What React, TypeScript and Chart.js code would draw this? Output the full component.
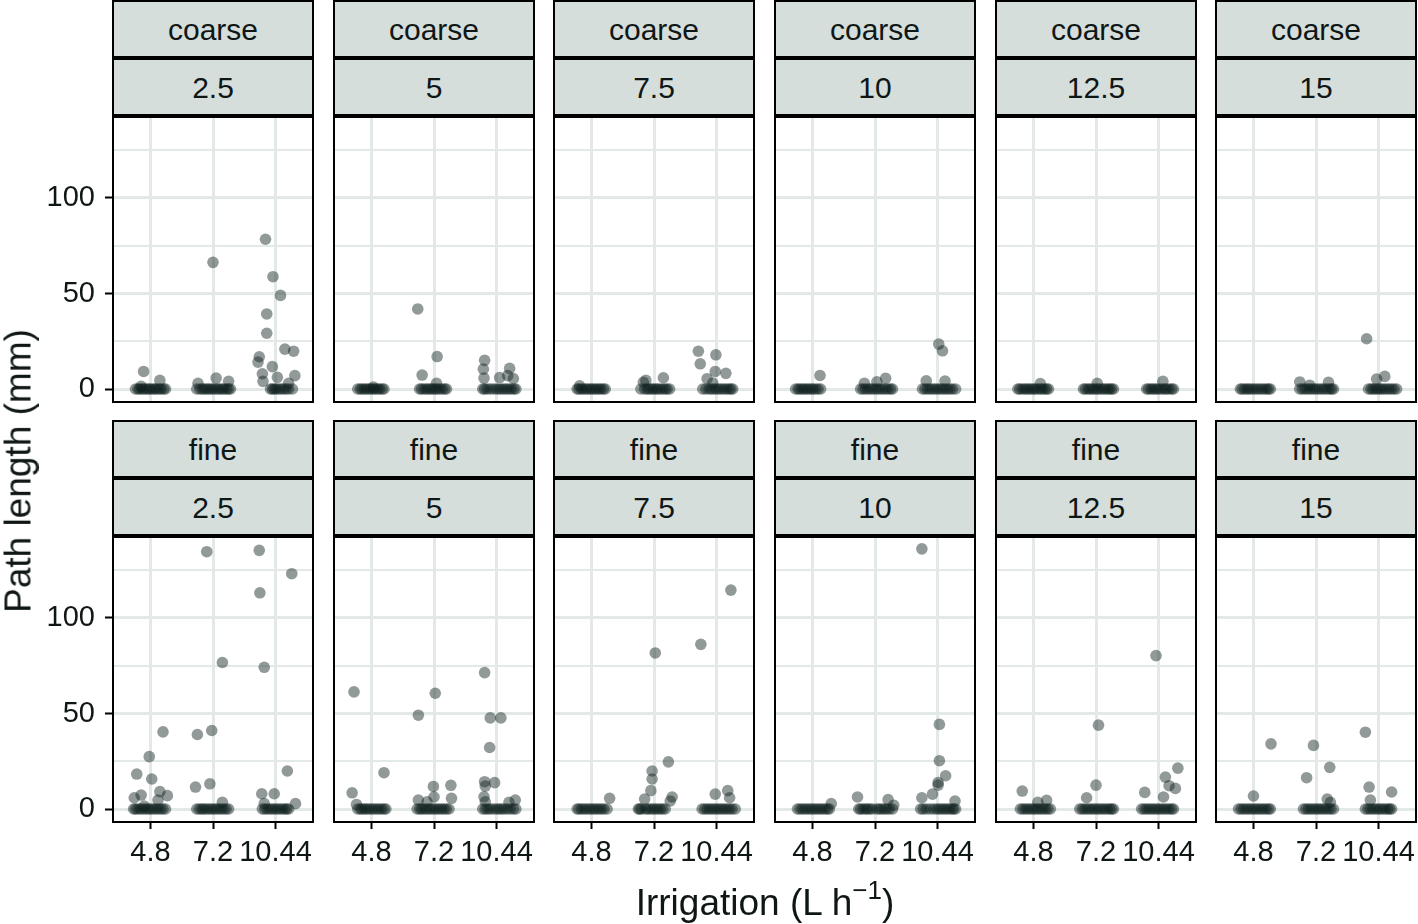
import React, { useEffect, useRef } from 'react';
import { Chart, registerables } from 'chart.js';

Chart.register(...registerables);

// ---------- categories / labels ----------
const irrigation = ['4.8', '7.2', '10.44'];
const textures = ['coarse', 'fine'];
const flowRates = ['2.5', '5', '7.5', '10', '12.5', '15'];
const yTicks = [0, 25, 50, 75, 100, 125];
const yMajor = [0, 50, 100];

// ---------- data: [x position in category units (1..3 + jitter), path length mm] ----------
const coarse2_5Raised = [[0.89, 9.2], [1.15, 4.5], [0.85, 1.4], [2.0, 66.3], [1.76, 3], [2.05, 5.7], [2.25, 4], [2.84, 78.4], [2.96, 58.8], [3.08, 49], [2.86, 39.3], [2.86, 29.2], [3.15, 20.9], [3.29, 19.8], [2.74, 16.9], [2.72, 14.1], [2.95, 11.7], [2.79, 8], [3.03, 6.1], [3.31, 7], [2.8, 4], [3.21, 3]];
const coarse2_5Zero = [0.76, 0.8, 0.83, 0.87, 0.9, 0.94, 0.97, 1.0, 1.04, 1.07, 1.1, 1.14, 1.17, 1.21, 1.24, 1.74, 1.79, 1.83, 1.86, 1.9, 1.93, 1.97, 2.0, 2.04, 2.08, 2.11, 2.15, 2.18, 2.22, 2.25, 2.28, 2.92, 2.95, 2.98, 3.01, 3.05, 3.09, 3.13, 3.17, 3.21, 3.27];

const coarse5Raised = [[1.03, 1], [1.74, 41.9], [2.05, 17], [1.81, 7.3], [2.04, 3], [2.81, 15], [2.79, 10.4], [2.8, 5.7], [3.21, 10.8], [3.05, 6], [3.18, 7], [3.27, 5.5]];
const coarse5Zero = [0.78, 0.82, 0.85, 0.89, 0.92, 0.96, 0.99, 1.03, 1.06, 1.1, 1.13, 1.17, 1.2, 1.77, 1.8, 1.84, 1.88, 1.91, 1.95, 1.98, 2.02, 2.05, 2.09, 2.13, 2.17, 2.2, 2.78, 2.81, 2.85, 2.9, 2.95, 3.0, 3.04, 3.08, 3.12, 3.16, 3.2, 3.24, 3.28, 3.31];

const coarse7_5Raised = [[0.81, 1.7], [2.15, 5.9], [1.87, 4.5], [1.83, 3.5], [2.71, 19.8], [2.99, 17.9], [2.74, 13.2], [2.98, 9.2], [3.15, 8.2], [2.85, 5.4], [2.94, 3.1]];
const coarse7_5Zero = [0.77, 0.8, 0.84, 0.87, 0.91, 0.94, 0.98, 1.01, 1.05, 1.08, 1.12, 1.15, 1.19, 1.22, 1.79, 1.85, 1.89, 1.92, 1.96, 1.99, 2.03, 2.06, 2.1, 2.14, 2.18, 2.21, 2.25, 2.78, 2.83, 2.88, 2.92, 2.96, 3.0, 3.04, 3.08, 3.12, 3.16, 3.2, 3.23, 3.26];

const coarse10Raised = [[1.12, 7.1], [2.17, 5.6], [2.03, 3.8], [1.83, 3], [3.02, 23.5], [3.08, 20], [2.82, 4.3], [3.12, 4.2]];
const coarse10Zero = [0.73, 0.77, 0.8, 0.84, 0.87, 0.91, 0.94, 0.98, 1.01, 1.05, 1.09, 1.13, 1.77, 1.81, 1.85, 1.89, 1.93, 1.97, 2.01, 2.05, 2.09, 2.13, 2.17, 2.21, 2.25, 2.28, 2.76, 2.8, 2.84, 2.88, 2.92, 2.96, 3.0, 3.04, 3.08, 3.12, 3.16, 3.2, 3.24, 3.29];

const coarse12_5Raised = [[1.11, 2.8], [2.02, 3], [3.07, 4]];
const coarse12_5Zero = [0.75, 0.78, 0.82, 0.86, 0.89, 0.93, 0.96, 1.0, 1.03, 1.07, 1.11, 1.14, 1.18, 1.21, 1.24, 1.8, 1.83, 1.87, 1.9, 1.94, 1.97, 2.01, 2.04, 2.08, 2.12, 2.15, 2.19, 2.22, 2.25, 2.28, 2.81, 2.84, 2.88, 2.91, 2.95, 2.98, 3.02, 3.06, 3.1, 3.13, 3.17, 3.21, 3.24];

const coarse15Raised = [[1.74, 3.7], [2.2, 3.5], [1.9, 2], [2.81, 26.3], [3.1, 6.6], [2.97, 5.2]];
const coarse15Zero = [0.79, 0.82, 0.86, 0.9, 0.93, 0.97, 1.01, 1.05, 1.09, 1.13, 1.17, 1.21, 1.24, 1.27, 1.74, 1.78, 1.82, 1.86, 1.9, 1.94, 1.98, 2.02, 2.06, 2.1, 2.14, 2.18, 2.22, 2.25, 2.28, 2.84, 2.88, 2.91, 2.95, 2.98, 3.02, 3.05, 3.09, 3.13, 3.17, 3.21, 3.25, 3.29];

const fine2_5Raised = [[1.2, 40.4], [0.98, 27.4], [0.78, 18.3], [1.02, 15.7], [1.15, 9.1], [0.85, 7.3], [0.74, 5.9], [1.27, 7], [1.12, 4.7], [0.9, 1.5], [1.9, 134.7], [2.15, 76.7], [1.75, 39], [1.98, 41.1], [1.95, 13.2], [1.72, 11.5], [2.15, 3.5], [2.74, 135.4], [2.75, 113.2], [3.26, 123.2], [2.82, 74.2], [3.19, 19.9], [2.78, 8], [2.98, 8], [3.32, 2.8], [2.82, 2.8]];
const fine2_5Zero = [0.73, 0.76, 0.8, 0.84, 0.88, 0.92, 0.96, 1.0, 1.04, 1.08, 1.12, 1.16, 1.2, 1.24, 1.74, 1.78, 1.82, 1.85, 1.89, 1.93, 1.97, 2.01, 2.05, 2.09, 2.13, 2.17, 2.21, 2.25, 2.79, 2.83, 2.87, 2.91, 2.95, 2.99, 3.03, 3.07, 3.11, 3.15, 3.18, 3.21];

const fine5Raised = [[0.72, 61.3], [1.2, 19], [0.69, 8.5], [0.76, 2.4], [2.02, 60.6], [1.75, 49.1], [1.99, 11.8], [2.27, 12.4], [2.0, 6.3], [2.28, 5.6], [1.75, 4.7], [1.89, 3.8], [2.81, 71.4], [2.9, 47.7], [3.07, 47.7], [2.89, 32.2], [2.81, 14.3], [2.97, 13.8], [2.82, 12], [2.8, 6.4], [2.82, 3.8], [3.3, 4.7], [3.2, 3.5]];
const fine5Zero = [0.78, 0.82, 0.85, 0.89, 0.92, 0.96, 1.0, 1.04, 1.08, 1.12, 1.16, 1.2, 1.23, 1.73, 1.77, 1.8, 1.84, 1.88, 1.92, 1.96, 2.0, 2.04, 2.08, 2.12, 2.16, 2.2, 2.24, 2.78, 2.82, 2.86, 2.9, 2.95, 3.0, 3.04, 3.08, 3.12, 3.17, 3.22, 3.27, 3.31];

const fine7_5Raised = [[1.29, 5.6], [2.02, 81.7], [2.23, 24.7], [1.97, 19.9], [1.97, 15.7], [1.95, 9.6], [1.85, 5.2], [2.29, 6.3], [2.26, 4.2], [3.23, 114.6], [2.75, 86.2], [2.98, 7.8], [3.18, 9.6], [3.21, 5.9]];
const fine7_5Zero = [0.77, 0.8, 0.84, 0.88, 0.92, 0.96, 1.0, 1.04, 1.08, 1.12, 1.16, 1.2, 1.25, 1.75, 1.77, 1.8, 1.86, 1.9, 1.94, 1.98, 2.02, 2.06, 2.1, 2.14, 2.18, 2.77, 2.81, 2.85, 2.89, 2.93, 2.97, 3.01, 3.05, 3.09, 3.13, 3.17, 3.21, 3.25, 3.3];

const fine10Raised = [[1.3, 2.8], [1.72, 6.3], [2.21, 4.9], [2.3, 2], [2.75, 136.2], [3.03, 44.3], [3.03, 25.3], [3.13, 17.4], [3.01, 13.9], [3.01, 12.5], [2.92, 7.8], [2.75, 5.9], [3.28, 4.2]];
const fine10Zero = [0.76, 0.8, 0.84, 0.88, 0.92, 0.96, 1.0, 1.04, 1.08, 1.12, 1.16, 1.2, 1.24, 1.27, 1.74, 1.77, 1.81, 1.85, 1.88, 1.92, 1.96, 2.03, 2.07, 2.11, 2.15, 2.19, 2.23, 2.28, 2.73, 2.77, 2.82, 2.88, 2.94, 2.99, 3.03, 3.07, 3.11, 3.15, 3.19, 3.23, 3.26, 3.29];

const fine12_5Raised = [[0.82, 9.4], [1.21, 4.5], [1.07, 3.5], [2.04, 43.9], [2.0, 12.5], [1.85, 5.9], [2.96, 80.3], [3.31, 21.4], [3.11, 16.7], [3.17, 12.2], [3.27, 10.8], [2.78, 8.7], [3.08, 6.3]];
const fine12_5Zero = [0.79, 0.83, 0.87, 0.91, 0.95, 0.99, 1.03, 1.07, 1.11, 1.15, 1.19, 1.23, 1.27, 1.74, 1.78, 1.82, 1.86, 1.9, 1.94, 1.98, 2.02, 2.06, 2.1, 2.14, 2.18, 2.22, 2.25, 2.28, 2.73, 2.77, 2.81, 2.85, 2.89, 2.93, 2.97, 3.01, 3.05, 3.09, 3.13, 3.17, 3.21, 3.24];

const fine15Raised = [[1.28, 34.1], [1.0, 6.8], [1.96, 33.3], [2.22, 21.8], [1.85, 16.4], [2.18, 5.2], [2.23, 3.5], [2.79, 40.2], [2.85, 11.5], [3.21, 8.9], [2.87, 4.7]];
const fine15Zero = [0.76, 0.8, 0.84, 0.88, 0.92, 0.96, 1.0, 1.04, 1.08, 1.12, 1.16, 1.2, 1.24, 1.27, 1.8, 1.84, 1.88, 1.92, 1.96, 2.0, 2.04, 2.08, 2.12, 2.16, 2.2, 2.24, 2.28, 2.79, 2.83, 2.87, 2.91, 2.95, 2.99, 3.03, 3.07, 3.11, 3.15, 3.18, 3.21];

const panelRaised = [
  [coarse2_5Raised, coarse5Raised, coarse7_5Raised, coarse10Raised, coarse12_5Raised, coarse15Raised],
  [fine2_5Raised, fine5Raised, fine7_5Raised, fine10Raised, fine12_5Raised, fine15Raised],
];
const panelZero = [
  [coarse2_5Zero, coarse5Zero, coarse7_5Zero, coarse10Zero, coarse12_5Zero, coarse15Zero],
  [fine2_5Zero, fine5Zero, fine7_5Zero, fine10Zero, fine12_5Zero, fine15Zero],
];

// ---------- layout / style ----------
const FONT = '"Liberation Sans", Arial, Helvetica, sans-serif';
const TEXT = '#0f1716';
const GRID = '#e2e9e6';
const STRIP = '#d5dedb';
const POINT = 'rgba(14,30,28,0.45)';
const PANEL_W = 200;
const PANEL_H = 285;
const COL_LEFT = [113, 334, 554, 775, 996, 1216];
const ROW_TOP = [117, 537];
const LEFT_AXIS_W = 113;
const BOTTOM_AXIS_H = 60;
const PAD = 2;

const borderPlugin = {
  id: 'panelBorder',
  afterDraw(chart: any) {
    const { ctx, chartArea } = chart;
    ctx.save();
    ctx.strokeStyle = '#000';
    ctx.lineWidth = 2;
    ctx.strokeRect(chartArea.left, chartArea.top, chartArea.right - chartArea.left, chartArea.bottom - chartArea.top);
    ctx.restore();
  },
};

function Panel({ row, col }: { row: number; col: number }) {
  const ref = useRef<HTMLCanvasElement | null>(null);
  const isLeft = col === 0;
  const isBottom = row === 1;
  const yW = isLeft ? LEFT_AXIS_W : PAD;
  const xH = isBottom ? BOTTOM_AXIS_H : PAD;
  const width = yW + PANEL_W + PAD;
  const height = PAD + PANEL_H + xH;
  const left = isLeft ? 0 : COL_LEFT[col] - PAD;
  const top = ROW_TOP[row] - PAD;

  useEffect(() => {
    if (!ref.current) return;
    const raised = panelRaised[row][col].map(([x, y]) => ({ x, y }));
    const zeros = panelZero[row][col].map((x) => ({ x, y: 0 }));
    const chart = new Chart(ref.current, {
      type: 'scatter',
      data: {
        datasets: [
          { data: zeros, backgroundColor: POINT, borderWidth: 0, pointRadius: 5.8, pointHoverRadius: 5.8 },
          { data: raised, backgroundColor: POINT, borderWidth: 0, pointRadius: 5.8, pointHoverRadius: 5.8 },
        ],
      },
      options: {
        responsive: false,
        animation: false,
        devicePixelRatio: 1,
        events: [],
        layout: { autoPadding: false, padding: { top: PAD, right: PAD, left: 0, bottom: 0 } },
        plugins: { legend: { display: false }, tooltip: { enabled: false } },
        scales: {
          x: {
            type: 'linear',
            min: 0.4,
            max: 3.6,
            afterBuildTicks: (s: any) => {
              s.ticks = [1, 2, 3].map((v) => ({ value: v }));
            },
            afterFit: (s: any) => {
              s.height = xH;
              s.paddingLeft = 0; s.paddingRight = 0; s.paddingTop = 0; s.paddingBottom = 0;
            },
            border: { display: false },
            grid: {
              color: GRID,
              lineWidth: 3,
              drawTicks: isBottom,
              tickLength: 7,
              tickColor: '#000',
              tickWidth: 2,
            },
            ticks: {
              display: isBottom,
              autoSkip: false,
              maxRotation: 0,
              padding: 7,
              color: TEXT,
              font: { family: FONT, size: 29 },
              callback: (v: any) => irrigation[Math.round(Number(v)) - 1] ?? '',
            },
          },
          y: {
            type: 'linear',
            min: -6.8,
            max: 142.4,
            afterBuildTicks: (s: any) => {
              s.ticks = yTicks.map((v) => ({ value: v }));
            },
            afterFit: (s: any) => {
              s.width = yW;
              s.paddingLeft = 0; s.paddingRight = 0; s.paddingTop = 0; s.paddingBottom = 0;
            },
            border: { display: false },
            grid: {
              color: GRID,
              lineWidth: (c: any) => (yMajor.includes(c.tick?.value) ? 3 : 2),
              drawTicks: isLeft,
              tickLength: 8,
              tickColor: (c: any) => (yMajor.includes(c.tick?.value) ? '#000' : 'rgba(0,0,0,0)'),
              tickWidth: 2,
            },
            ticks: {
              display: isLeft,
              autoSkip: false,
              padding: 10,
              color: TEXT,
              font: { family: FONT, size: 29 },
              callback: (v: any) => (yMajor.includes(Number(v)) ? String(v) : ''),
            },
          },
        },
      },
      plugins: [borderPlugin],
    } as any);
    return () => chart.destroy();
  }, [row, col]);

  return (
    <canvas
      ref={ref}
      width={width}
      height={height}
      style={{ position: 'absolute', left, top, width, height }}
    />
  );
}

function Strip({ text, left, top }: { text: string; left: number; top: number }) {
  return (
    <div
      style={{
        position: 'absolute',
        left,
        top,
        width: PANEL_W + 2,
        height: 58,
        boxSizing: 'border-box',
        border: '2px solid #000',
        background: STRIP,
        color: TEXT,
        fontFamily: FONT,
        fontSize: 30,
        display: 'flex',
        alignItems: 'center',
        justifyContent: 'center',
        lineHeight: 1,
        paddingTop: 2,
      }}
    >
      {text}
    </div>
  );
}

export default function App() {
  const items: React.ReactNode[] = [];
  for (let r = 0; r < 2; r++) {
    for (let c = 0; c < 6; c++) {
      const pTop = ROW_TOP[r];
      const sLeft = COL_LEFT[c] - 1;
      items.push(<Strip key={`s1-${r}-${c}`} text={textures[r]} left={sLeft} top={pTop - 117} />);
      items.push(<Strip key={`s2-${r}-${c}`} text={flowRates[c]} left={sLeft} top={pTop - 59} />);
      items.push(<Panel key={`p-${r}-${c}`} row={r} col={c} />);
    }
  }
  return (
    <div
      style={{
        position: 'fixed',
        left: 0,
        top: 0,
        width: 1418,
        height: 924,
        background: '#fff',
        overflow: 'hidden',
      }}
    >
      {items}
      <div
        style={{
          position: 'absolute',
          left: 18,
          top: 471,
          transform: 'translate(-50%, -50%) rotate(-90deg)',
          whiteSpace: 'nowrap',
          fontFamily: FONT,
          fontSize: 37,
          color: TEXT,
          lineHeight: 1,
        }}
      >
        Path length (mm)
      </div>
      <div
        style={{
          position: 'absolute',
          left: 765,
          top: 902,
          transform: 'translate(-50%, -50%)',
          whiteSpace: 'nowrap',
          fontFamily: FONT,
          fontSize: 37,
          color: TEXT,
          lineHeight: 1,
        }}
      >
        Irrigation (L h
        <span style={{ fontSize: 26, position: 'relative', top: -16 }}>−1</span>)
      </div>
    </div>
  );
}
